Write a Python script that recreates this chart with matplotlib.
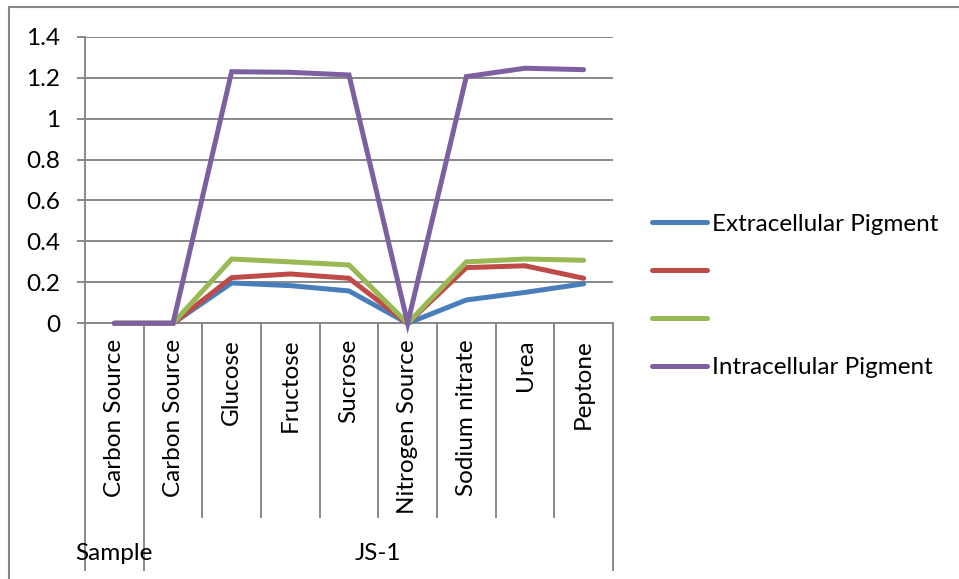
import matplotlib
matplotlib.use("Agg")
import matplotlib.pyplot as plt
from matplotlib.lines import Line2D
import numpy as np

plt.rcParams['font.family'] = ['Lato', 'DejaVu Sans']

categories = ["Carbon Source", "Carbon Source", "Glucose", "Fructose", "Sucrose",
              "Nitrogen Source", "Sodium nitrate", "Urea", "Peptone"]
groups = [("Sample", 0, 1), ("JS-1", 1, 9)]

extracellular = [0, 0, 0.197, 0.184, 0.158, 0, 0.114, 0.151, 0.193]
series_red = [0, 0, 0.223, 0.241, 0.220, 0, 0.272, 0.281, 0.220]
series_green = [0, 0, 0.314, 0.300, 0.285, 0, 0.300, 0.314, 0.308]
intracellular = [0, 0, 1.229, 1.226, 1.213, 0, 1.205, 1.246, 1.239]

series = [
    ("Extracellular Pigment", extracellular, "#4A7EBB"),
    ("", series_red, "#BE4B48"),
    ("", series_green, "#98B954"),
    ("Intracellular Pigment", intracellular, "#7D60A0"),
]
yticks = [0, 0.2, 0.4, 0.6, 0.8, 1, 1.2, 1.4]
ytick_labels = ["0", "0.2", "0.4", "0.6", "0.8", "1", "1.2", "1.4"]

W, H = 959, 579
FS = 17.5
fig = plt.figure(figsize=(W / 100, H / 100), dpi=100)
grid_col = "#888888"

# plot area in pixel coordinates
x0, x1, ytop, ybot = 85, 613, 36.7, 323.3
ax = fig.add_axes([x0 / W, 1 - ybot / H, (x1 - x0) / W, (ybot - ytop) / H])

n = len(categories)
x = np.arange(n)
handles = []
for label, vals, col in series:
    h, = ax.plot(x, vals, color=col, lw=3.6, solid_capstyle="round",
                 solid_joinstyle="miter", clip_on=False, zorder=3)
    handles.append(h)

ax.set_xlim(-0.5, n - 0.5)
ax.set_ylim(0, 1.4)
ax.set_yticks(yticks)
ax.set_yticklabels(ytick_labels, fontsize=FS)
ax.tick_params(axis="y", length=6, width=1.4, color=grid_col, pad=12)
ax.set_xticks([])
ax.yaxis.grid(True, color=grid_col, lw=1.4)
ax.set_axisbelow(True)
for s in ["top", "right"]:
    ax.spines[s].set_visible(False)
for s in ["left", "bottom"]:
    ax.spines[s].set_color(grid_col)
    ax.spines[s].set_linewidth(1.4)
    ax.spines[s].set_zorder(1)

# category axis: boundary lines, rotated labels and group labels
trans = ax.get_xaxis_transform()
axh = (ybot - ytop)
def frac(ypix):
    return (ybot - ypix) / axh

outer = {g[1] for g in groups} | {g[2] for g in groups}
for k in range(n + 1):
    yend = 570 if k in outer else 517
    ax.add_line(Line2D([k - 0.5, k - 0.5], [0, frac(yend)], transform=trans,
                       color=grid_col, lw=1.4, clip_on=False))

for i, c in enumerate(categories):
    ax.text(i, frac(339), c, transform=trans, rotation=90, ha="center",
            va="top", fontsize=FS, color="black")

for name, a, b in groups:
    ax.text((a + b - 1) / 2, frac(553), name, transform=trans, ha="center",
            va="center", fontsize=FS, color="black")

# chart area border
fig.add_artist(Line2D([9 / W, 1], [1 - 7 / H, 1 - 7 / H], color=grid_col, lw=1.5))
fig.add_artist(Line2D([9 / W, 9 / W], [0, 1 - 7 / H], color=grid_col, lw=1.5))

leg = fig.legend(handles, [s[0] for s in series], loc="center left",
                 bbox_to_anchor=(652 / W, 1 - 296 / H), frameon=False,
                 fontsize=FS, handlelength=2.25, handletextpad=0.2,
                 labelspacing=1.1, borderpad=0, borderaxespad=0)

fig.savefig("out.png", dpi=100, facecolor="white")
